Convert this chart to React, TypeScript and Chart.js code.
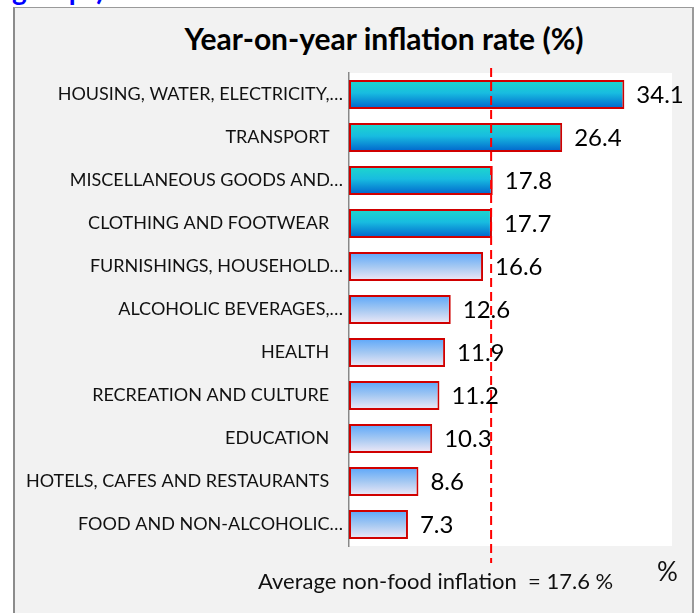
import React, { useEffect, useRef } from "react";
import { Chart, registerables } from "chart.js";

Chart.register(...registerables);

const categories: string[] = [
  "HOUSING, WATER, ELECTRICITY,…",
  "TRANSPORT",
  "MISCELLANEOUS GOODS AND…",
  "CLOTHING AND FOOTWEAR",
  "FURNISHINGS, HOUSEHOLD…",
  "ALCOHOLIC BEVERAGES,…",
  "HEALTH",
  "RECREATION AND CULTURE",
  "EDUCATION",
  "HOTELS, CAFES AND RESTAURANTS",
  "FOOD AND NON-ALCOHOLIC…",
];

const inflation: number[] = [34.1, 26.4, 17.8, 17.7, 16.6, 12.6, 11.9, 11.2, 10.3, 8.6, 7.3];

const averageNonFood = 17.6;
const xMin = 0;
const xMax = 40;

const FONT = "Lato, 'Open Sans', sans-serif";

export default function App() {
  const canvasRef = useRef<HTMLCanvasElement | null>(null);

  useEffect(() => {
    const canvas = canvasRef.current;
    if (!canvas) return;

    const BAR_PCT = 0.67;

    const gradientFor = (chart: any, i: number, value: number) => {
      const ys = chart.scales?.y;
      const c = chart.ctx;
      const high = value > averageNonFood;
      if (!ys || !chart.chartArea) return high ? "#12a8e0" : "#9cc8f4";
      const center = ys.getPixelForValue(i);
      const h = (ys.height / categories.length) * BAR_PCT;
      const g = c.createLinearGradient(0, center - h / 2, 0, center + h / 2);
      if (high) {
        g.addColorStop(0, "#1ed8cc");
        g.addColorStop(0.45, "#18bce0");
        g.addColorStop(1, "#0062cc");
      } else {
        g.addColorStop(0, "#5aa6fa");
        g.addColorStop(0.5, "#a4c8f2");
        g.addColorStop(1, "#f2eaf6");
      }
      return g;
    };

    const plotBg = {
      id: "plotBg",
      beforeDraw(chart: any) {
        const { ctx, chartArea } = chart;
        ctx.save();
        ctx.fillStyle = "#ffffff";
        ctx.fillRect(chartArea.left, chartArea.top, chartArea.right - chartArea.left, chartArea.bottom - chartArea.top);
        ctx.restore();
      },
    };

    const valueLabels = {
      id: "valueLabels",
      afterDatasetsDraw(chart: any) {
        const { ctx } = chart;
        const meta = chart.getDatasetMeta(0);
        ctx.save();
        ctx.font = `24px ${FONT}`;
        ctx.fillStyle = "#000000";
        ctx.textAlign = "left";
        ctx.textBaseline = "middle";
        meta.data.forEach((el: any, i: number) => {
          ctx.fillText(inflation[i].toFixed(1), el.x + 12, el.y + 1);
        });
        ctx.restore();
      },
    };

    const avgLine = {
      id: "avgLine",
      afterDatasetsDraw(chart: any) {
        const { ctx, chartArea } = chart;
        const x = chart.scales.x.getPixelForValue(averageNonFood);
        ctx.save();
        ctx.strokeStyle = "#ff0000";
        ctx.lineWidth = 2;
        ctx.setLineDash([9, 5]);
        ctx.beginPath();
        ctx.moveTo(x, chartArea.top - 5);
        ctx.lineTo(x, chartArea.bottom + 17);
        ctx.stroke();
        ctx.restore();
      },
    };

    const chart = new Chart(canvas, {
      type: "bar",
      data: {
        labels: categories,
        datasets: [
          {
            data: inflation,
            backgroundColor: (ctx: any) => gradientFor(ctx.chart, ctx.dataIndex, inflation[ctx.dataIndex]),
            borderColor: "#d00000",
            borderWidth: 2,
            borderSkipped: false,
            barPercentage: BAR_PCT,
            categoryPercentage: 1,
          },
        ],
      },
      options: {
        indexAxis: "y",
        responsive: false,
        animation: false,
        maintainAspectRatio: false,
        layout: { padding: { left: 0, right: 26, top: 73, bottom: 67 } },
        plugins: {
          legend: { display: false },
          tooltip: { enabled: false },
          title: { display: false },
        },
        scales: {
          x: { display: false, min: xMin, max: xMax },
          y: {
            afterFit: (scale: any) => {
              scale.width = 349;
            },
            grid: { display: false, drawTicks: false },
            border: { display: true, color: "#888888", width: 1.5 },
            ticks: {
              padding: 6,
              color: "#111111",
              font: { family: FONT, size: 18 },
              callback: (_v: any, i: number) => {
                const s = categories[i];
                return s.endsWith("…") ? s : s + "\u00a0\u00a0\u00a0";
              },
            },
          },
        },
      },
      plugins: [plotBg, avgLine, valueLabels],
    });

    return () => chart.destroy();
  }, []);

  return (
    <div style={{ position: "fixed", left: 0, top: 0, width: 698, height: 613, background: "#ffffff", overflow: "hidden", fontFamily: FONT }}>
      <div style={{ position: "absolute", left: 12, top: -25, color: "#0000ff", fontWeight: 700, fontSize: 28, lineHeight: "28px", whiteSpace: "nowrap" }}>
        groups)
      </div>
      <div
        style={{
          position: "absolute",
          left: 13,
          top: 7,
          width: 677,
          height: 640,
          background: "#f2f2f2",
          borderLeft: "2px solid #8c8c8c",
          borderTop: "1px solid #9a9a9a",
          borderRight: "2px solid #9a9a9a",
        }}
      />
      <div style={{ position: "absolute", left: 0, width: 768, top: 20, textAlign: "center", fontWeight: 700, fontSize: 30, color: "#000", whiteSpace: "nowrap" }}>
        Year-on-year inflation rate (%)
      </div>
      <canvas ref={canvasRef} width={698} height={613} style={{ position: "absolute", left: 0, top: 0 }} />
      <div style={{ position: "absolute", left: 258, top: 567, fontSize: 22, color: "#111", whiteSpace: "pre" }}>
        {`Average non-food inflation  = ${averageNonFood} %`}
      </div>
      <div style={{ position: "absolute", left: 657, top: 555, fontSize: 26, color: "#111" }}>%</div>
    </div>
  );
}
